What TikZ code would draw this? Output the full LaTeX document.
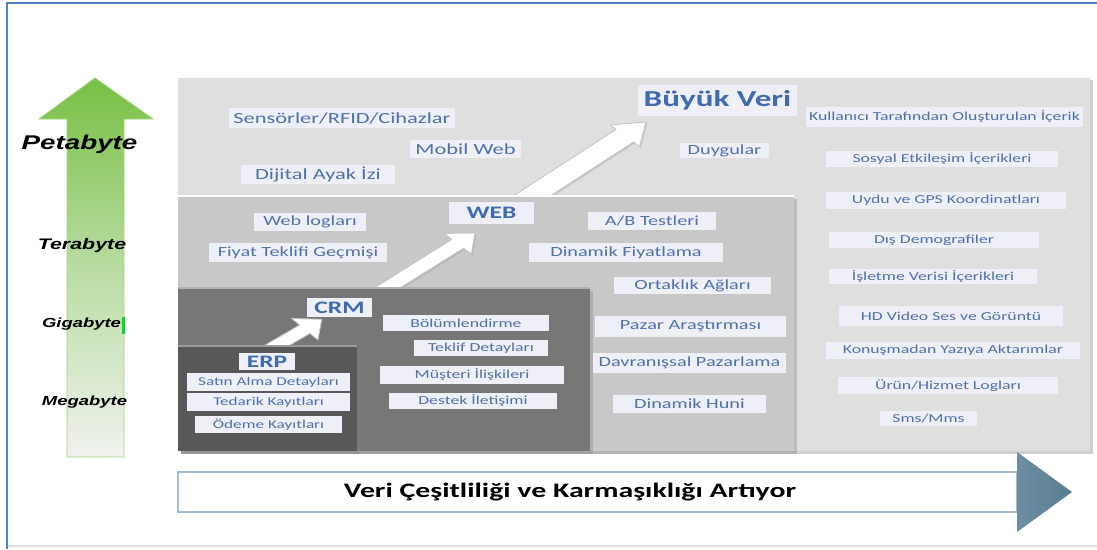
\documentclass[tikz,border=0pt]{standalone}
\usepackage{fontspec}
\usetikzlibrary{shadows}
\newfontfamily\lbl[FakeStretch=1.45]{Carlito}
\newfontfamily\arl[FakeStretch=1.4]{Liberation Sans}
\definecolor{boxfill}{HTML}{EFEFF8}
\definecolor{lbltext}{HTML}{4F72AC}
\definecolor{ttltext}{HTML}{3F6CAE}
\definecolor{pBig}{HTML}{DFDFDF}
\definecolor{pWeb}{HTML}{C8C8C8}
\definecolor{pCrm}{HTML}{777777}
\definecolor{pErp}{HTML}{585858}
\definecolor{frameblue}{HTML}{4F81BD}
\definecolor{barline}{HTML}{A9BCCB}
\definecolor{arrowL}{HTML}{6B8EA2}
\definecolor{arrowR}{HTML}{597C90}
\definecolor{greenTop}{HTML}{78C043}
\definecolor{greenMid}{HTML}{B9DCA2}
\definecolor{greenBot}{HTML}{F0F2EE}
\tikzset{
  lblbox/.style={fill=boxfill, inner sep=0pt, text=lbltext},
  fL/.style={lblbox, font=\lbl\fontsize{8.8}{10}\selectfont},
  fM/.style={lblbox, font=\lbl\fontsize{7.95}{9}\selectfont},
  fS/.style={lblbox, font=\lbl\fontsize{6.95}{8}\selectfont},
  fE/.style={lblbox, font=\lbl\fontsize{6.75}{8}\selectfont},
  ttl/.style={fill=boxfill, inner sep=0pt, text=ttltext, font=\lbl\bfseries\fontsize{10}{12}\selectfont},
  sz/.style 2 args={minimum width={#1*0.56905pt}, minimum height={#2*0.56905pt}},
  panel/.style={drop shadow={opacity=0.35, shadow xshift=1.6pt, shadow yshift=-1.6pt}},
  blockarrow/.style={fill=white, draw=gray!45, line width=0.5pt, line join=round,
    drop shadow={opacity=0.25, shadow xshift=0.8pt, shadow yshift=-0.8pt}},
  scalelbl/.style={anchor=base, text=black, font=\arl\bfseries\itshape\fontsize{#1}{#1}\selectfont}
}
\begin{document}
\begin{tikzpicture}[x=0.02cm, y=-0.02cm]
\useasboundingbox (0,0) rectangle (1097,549);
\fill[white] (0,0) rectangle (1097,549);
% frame
\draw[gray!25, line width=0.8pt] (7,546) -- (1097,546);
\draw[frameblue, line width=1.2pt] (7,549) -- (7,3) -- (1097,3);

% green scale arrow
\shade[top color=greenTop, bottom color=greenBot, middle color=greenMid, draw=greenTop!70!white, line width=0.5pt]
  (95,78) -- (153,119) -- (124,119) -- (124,457) -- (67,457) -- (67,119) -- (39,119) -- cycle;
\fill[green!70!teal] (122,317) rectangle (125,334);
\node[scalelbl=11.3] (peta) at (79.5,149) {Petabyte};
\node[scalelbl=8.7] (tera) at (82,249) {Terabyte};
\node[scalelbl=7.5] (giga) at (81.5,327) {Gigabyte};
\node[scalelbl=7.5] (mega) at (84.5,405) {Megabyte};

% panels and block arrows
\fill[pBig, panel] (178,77) rectangle (1090,451);
\draw[white, line width=1pt] (178,77) -- (1090,77);
\path[blockarrow] (507,200) -- (616.1,129.4) -- (610.2,124.9) -- (646,122) -- (639.5,146.5) -- (633.5,142) -- (543.9,200) -- cycle;
\fill[pWeb, panel] (178,196) rectangle (794,451);
\draw[white, line width=1pt] (178,196) -- (794,196);
\path[blockarrow] (367.7,292) -- (452.0,239.3) -- (444.1,233.4) -- (475,233) -- (471.4,254.1) -- (463.6,248.2) -- (393.5,292) -- cycle;
\fill[pCrm, panel] (178,288) rectangle (590,451);
\draw[gray!60, line width=1pt] (178,288) -- (590,288);
\path[blockarrow] (256.7,350) -- (299.6,325.0) -- (291.7,318.5) -- (321.7,319.3) -- (317.9,339.9) -- (309.9,333.4) -- (281.5,350) -- cycle;
\fill[pErp, panel] (178,346) rectangle (357,451);
\draw[gray!80, line width=1pt] (178,346) -- (357,346);

% Big data level
\node[ttl, font=\lbl\bfseries\fontsize{13}{15}\selectfont, sz={159}{31}] (bigdata) at (717.5,100.5) {Büyük Veri};
\node[fL, sz={226}{20}] (sens) at (342,118) {Sensörler/RFID/Cihazlar};
\node[fL, sz={111}{18}] (mobil) at (465.5,149) {Mobil Web};
\node[fL, sz={154}{19}] (dijital) at (318,174.5) {Dijital Ayak İzi};
\node[fM, sz={89}{15}] (duygu) at (724.5,150.5) {Duygular};
\node[fS, sz={277}{20}] (kull) at (944.5,117) {Kullanıcı Tarafından Oluşturulan İçerik};
\node[fS, sz={232}{16}] (sosyal) at (942,159) {Sosyal Etkileşim İçerikleri};
\node[fS, sz={240}{17}] (uydu) at (946,200.5) {Uydu ve GPS Koordinatları};
\node[fS, sz={210}{16}] (dis) at (934,240) {Dış Demografiler};
\node[fS, sz={208}{15}] (islet) at (933,276.5) {İşletme Verisi İçerikleri};
\node[fS, sz={224}{20}] (hd) at (951,316) {HD Video Ses ve Görüntü};
\node[fS, sz={254}{17}] (konus) at (953,350.5) {Konuşmadan Yazıya Aktarımlar};
\node[fS, sz={220}{17}] (urun) at (948,385.5) {Ürün/Hizmet Logları};
\node[fS, sz={97}{15}] (sms) at (928.5,418.5) {Sms/Mms};

% WEB level
\node[ttl, sz={85}{22}] (web) at (491.5,213) {WEB};
\node[fM, sz={112}{18}] (weblog) at (310,222) {Web logları};
\node[fM, sz={178}{19}] (fiyat) at (298,252.5) {Fiyat Teklifi Geçmişi};
\node[fM, sz={128}{18}] (ab) at (652,221) {A/B Testleri};
\node[fM, sz={194}{19}] (dinf) at (626,252.5) {Dinamik Fiyatlama};
\node[fM, sz={157}{17}] (ortak) at (692.5,285.5) {Ortaklık Ağları};
\node[fM, sz={191}{21}] (pazar) at (690.5,326.5) {Pazar Araştırması};
\node[fM, sz={193}{20}] (davr) at (689.5,363) {Davranışsal Pazarlama};
\node[fM, sz={153}{18}] (huni) at (689.5,404) {Dinamik Huni};

% CRM level
\node[ttl, sz={65}{19}] (crm) at (339.5,307.5) {CRM};
\node[fS, sz={166}{16}] (bolum) at (466,323) {Bölümlendirme};
\node[fS, sz={134}{16}] (teklif) at (481,348) {Teklif Detayları};
\node[fS, sz={184}{18}] (muster) at (472,375) {Müşteri İlişkileri};
\node[fS, sz={168}{16}] (destek) at (473,401) {Destek İletişimi};

% ERP level
\node[ttl, sz={56}{17}] (erp) at (267,361.5) {ERP};
\node[fE, sz={163}{18}] (satin) at (268.5,382) {Satın Alma Detayları};
\node[fE, sz={163}{18}] (tedarik) at (268.5,402) {Tedarik Kayıtları};
\node[fE, sz={147}{17}] (odeme) at (268.5,424.5) {Ödeme Kayıtları};

% bottom arrow
\node[draw=barline, fill=white, line width=0.9pt, sz={839}{40}, inner sep=0pt] (bar) at (597.5,492) {};
\shade[left color=arrowL, right color=arrowR] (1017,452) -- (1072,492) -- (1017,532) -- cycle;
\node[font=\lbl\bfseries\fontsize{11.7}{14}\selectfont, text=black] (vtxt) at (570,492) {Veri Çeşitliliği ve Karmaşıklığı Artıyor};
\end{tikzpicture}
\end{document}
